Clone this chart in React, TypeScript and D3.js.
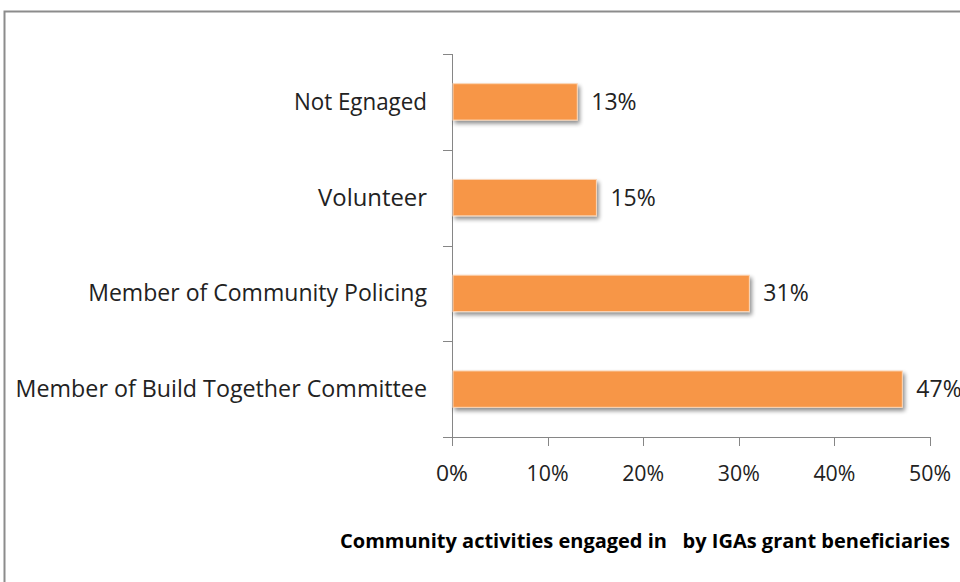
import React from "react";
import * as d3 from "d3";

const categories = ["Not Egnaged", "Volunteer", "Member of Community Policing", "Member of Build Together Committee"];
const values = [13, 15, 31, 47];
const xTicks = [0, 10, 20, 30, 40, 50];
const axisTitle = "Community activities engaged in   by IGAs grant beneficiaries";

const W = 960, H = 582;
const FONT = "'Open Sans', 'Noto Sans', sans-serif";

export default function App() {
  const x = d3.scaleLinear().domain([0, 50]).range([452, 930]);
  const y = d3.scaleBand().domain(categories).range([54, 437]).paddingInner(0.62).paddingOuter(0.31);
  const sepYs = d3.range(categories.length + 1).map(i => 54 + i * (383 / categories.length));
  return (
    <svg width={W} height={H} style={{ position: "absolute", left: 0, top: 0, background: "#fff" }} fontFamily={FONT}>
      <defs>
        <filter id="sh" x="-5%" y="-30%" width="115%" height="180%">
          <feGaussianBlur in="SourceAlpha" stdDeviation="2" />
          <feOffset dx="2" dy="3" result="b" />
          <feComponentTransfer><feFuncA type="linear" slope="0.45" /></feComponentTransfer>
          <feMerge><feMergeNode /><feMergeNode in="SourceGraphic" /></feMerge>
        </filter>
      </defs>
      <rect x={4.5} y={11.5} width={1000} height={700} fill="#fff" stroke="#8c8c8c" strokeWidth={2} />
      <line x1={452.5} x2={452.5} y1={54} y2={437} stroke="#868686" strokeWidth={1} />
      {sepYs.map((sy, i) => (
        <line key={i} x1={443} x2={452.5} y1={Math.round(sy) + 0.5} y2={Math.round(sy) + 0.5} stroke="#868686" />
      ))}
      <line x1={443} x2={930.5} y1={437.5} y2={437.5} stroke="#868686" />
      {xTicks.map(t => (
        <g key={t}>
          <line x1={Math.round(x(t)) + 0.5} x2={Math.round(x(t)) + 0.5} y1={437} y2={446} stroke="#868686" />
          <text x={x(t)} y={481} textAnchor="middle" fontSize={22} fill="#222" textLength={t === 0 ? 32 : 42} lengthAdjust="spacingAndGlyphs">{t}%</text>
        </g>
      ))}
      {categories.map((c, i) => {
        const by = y(c)!;
        const bh = y.bandwidth();
        return (
          <g key={c}>
            <rect x={x(0) + 1} y={by} width={x(values[i]) - x(0)} height={bh} fill="#F79646" stroke="#fbd6b8" strokeWidth={1} filter="url(#sh)" />
            <text x={x(values[i]) + 15} y={by + bh / 2 + 8} fontSize={23} fill="#222">{values[i]}%</text>
            <text x={427} y={by + bh / 2 + 8} textAnchor="end" fontSize={23} fill="#222" textLength={c.length * 12.1} lengthAdjust="spacingAndGlyphs">{c}</text>
          </g>
        );
      })}
      <text x={950} y={548} textAnchor="end" fontSize={20} fontWeight="bold" fill="#000" style={{ whiteSpace: "pre" }}>{axisTitle}</text>
    </svg>
  );
}
